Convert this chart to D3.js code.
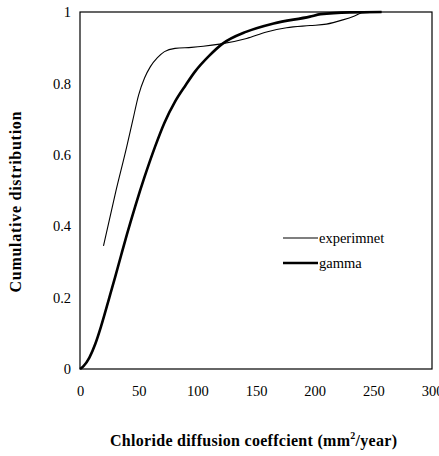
<!DOCTYPE html>
<html><head><meta charset="utf-8">
<script src="https://cdn.jsdelivr.net/npm/d3@7"></script>
<style>body{margin:0;background:#fff}svg{display:block}svg text{fill:#000}</style>
</head><body><svg id="c" width="439" height="456"></svg>
<script>
const xTicks = [0, 50, 100, 150, 200, 250, 300];
const yTicks = [0, 0.2, 0.4, 0.6, 0.8, 1];
const yTickLabels = ["0", "0.2", "0.4", "0.6", "0.8", "1"];
const seriesNames = ["experimnet", "gamma"];
const expX = [20, 30, 40, 45, 50, 55, 60, 66, 72, 81, 95, 105, 119, 142, 159, 176, 196, 210, 224, 234, 240, 257];
const expY = [0.345, 0.49, 0.625, 0.697, 0.768, 0.815, 0.847, 0.872, 0.889, 0.898, 0.901, 0.904, 0.910, 0.926, 0.944, 0.956, 0.962, 0.966, 0.978, 0.989, 0.997, 1.0];
const gamX = [0, 3, 8, 13, 18, 25, 30, 35, 40, 47, 55, 64, 72, 81, 90, 98, 110, 121, 142, 165, 196, 205, 230, 257];
const gamY = [0, 0.008, 0.032, 0.07, 0.12, 0.2, 0.258, 0.318, 0.377, 0.455, 0.538, 0.623, 0.69, 0.749, 0.795, 0.833, 0.877, 0.910, 0.945, 0.968, 0.987, 0.994, 0.999, 1.0];

const svg = d3.select("#c");
const L = 80, R = 432, T = 12, B = 369;
const x = d3.scaleLinear().domain([0, 300]).range([L, R]);
const y = d3.scaleLinear().domain([0, 1]).range([B, T]);
const FF = '"Liberation Serif","Times New Roman",Times,serif';

svg.append("rect").attr("x", L).attr("y", T).attr("width", R - L).attr("height", B - T)
  .attr("fill", "none").attr("stroke", "#000").attr("stroke-width", 1.2);

const yAxis = d3.axisLeft(y).tickValues(yTicks).tickSize(0).tickPadding(9)
  .tickFormat((d, i) => yTickLabels[i]);
const gy = svg.append("g").attr("transform", `translate(${L},0)`).call(yAxis)
  .attr("font-family", FF).attr("font-size", 14.5);
gy.select(".domain").remove();

const xAxis = d3.axisBottom(x).tickValues(xTicks).tickSize(0).tickPadding(17).tickFormat(d3.format("d"));
const gx = svg.append("g").attr("transform", `translate(0,${B})`).call(xAxis)
  .attr("font-family", FF).attr("font-size", 14.5);
gx.select(".domain").remove();

const line = d3.line().x(d => x(d[0])).y(d => y(d[1])).curve(d3.curveMonotoneX);
const expData = expX.map((v, i) => [v, expY[i]]);
const gamData = gamX.map((v, i) => [v, gamY[i]]);
svg.append("path").attr("d", line(expData)).attr("fill", "none").attr("stroke", "#000").attr("stroke-width", 1.1);
svg.append("path").attr("d", line(gamData)).attr("fill", "none").attr("stroke", "#000").attr("stroke-width", 2.6);

const lg = [{n: seriesNames[0], w: 1.1, yy: 238}, {n: seriesNames[1], w: 2.6, yy: 263}];
lg.forEach(d => {
  svg.append("line").attr("x1", 283).attr("x2", 318).attr("y1", d.yy).attr("y2", d.yy)
    .attr("stroke", "#000").attr("stroke-width", d.w);
  svg.append("text").attr("x", 319).attr("y", d.yy + 4.5).attr("font-family", FF).attr("font-size", 14.5).text(d.n);
});

const xt = svg.append("text").attr("x", 253.5).attr("y", 446).attr("text-anchor", "middle")
  .attr("font-family", FF).attr("font-size", 16).attr("font-weight", "bold")
  .attr("textLength", 287).attr("lengthAdjust", "spacing");
xt.append("tspan").text("Chloride diffusion coeffcient (mm");
xt.append("tspan").attr("dy", -7).attr("font-size", 10).text("2");
xt.append("tspan").attr("dy", 7).text("/year)");

svg.append("text").attr("transform", `translate(21,202) rotate(-90)`).attr("text-anchor", "middle")
  .attr("font-family", FF).attr("font-size", 16).attr("font-weight", "bold")
  .attr("textLength", 181).attr("lengthAdjust", "spacing").text("Cumulative distribution");
</script></body></html>
